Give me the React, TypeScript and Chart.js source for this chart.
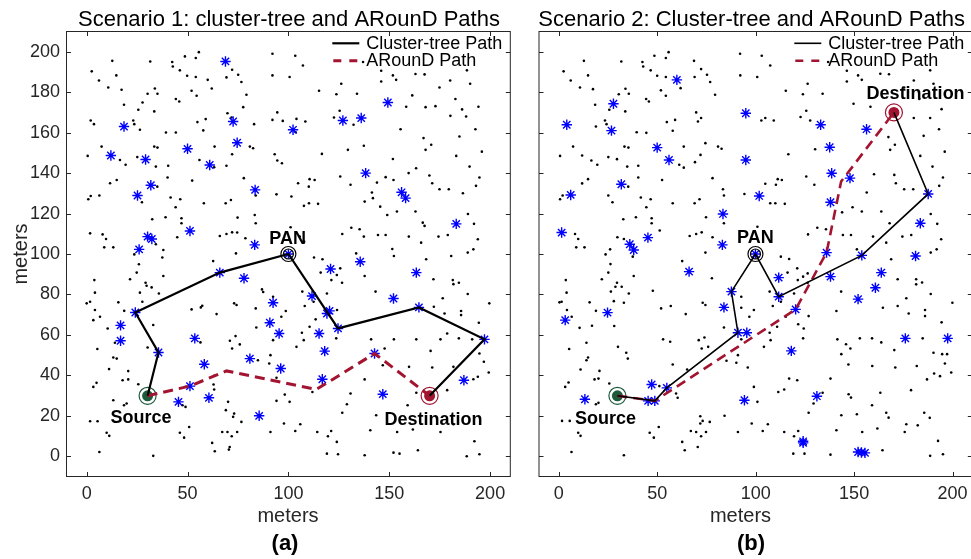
import React, { useEffect, useRef } from "react";
import { Chart, registerables } from "chart.js";

Chart.register(...registerables);

type Pt = [number, number];

// ---------- axis ticks ----------
const X_TICKS = [0, 50, 100, 150, 200];
const Y_TICKS = [0, 20, 40, 60, 80, 100, 120, 140, 160, 180, 200];
const AXIS_MIN = -10;
const AXIS_MAX = 210;

const LEGEND_LABELS = ["Cluster-tree Path", "ARounD Path"];

// ---------- Scenario 1 ----------
const S1_TITLE = "Scenario 1: cluster-tree and ARounD Paths";
const S1_SOURCE: Pt = [30.2, 29.9];
const S1_DEST: Pt = [170, 29.9];
const S1_PAN: Pt = [100, 100];
const S1_CLUSTER_PATH: Pt[] = [
  [30.2, 29.9], [35.6, 51.3], [24.1, 71.1], [66, 90.8], [100, 100],
  [124.6, 63.2], [164.7, 73.6], [197.2, 57.8], [170, 29.9],
];
const S1_AROUND_PATH: Pt[] = [
  [30.2, 29.9], [51.2, 34.7], [69.3, 42.2], [113.8, 33], [142.7, 50.8], [170, 29.9],
];
const S1_HEADS: Pt[] = [
  [18.5, 163], [12, 148.7], [29.2, 146.7], [50, 152], [31.8, 134], [25.2, 128.9], [61, 144],
  [68.8, 195.2], [72.6, 165.5], [74.6, 155], [83.5, 131.7], [102.3, 161.4], [51.2, 111.4],
  [30.2, 108.6], [32.3, 107.4], [26, 102.3], [83.3, 104.5], [127, 166], [136.1, 167.2],
  [149.3, 174.9], [138.3, 140], [156.1, 130.5], [158.1, 127.6], [183.2, 114.9], [66, 90.8],
  [78, 88], [92.4, 75.9], [90.8, 66], [95.4, 60.7], [24.1, 71.1], [16.8, 64.7], [16.8, 57.1],
  [35.6, 51.3], [53.6, 58.3], [58.3, 45.5], [80.9, 48.3], [96.2, 43.4], [51.2, 34.7],
  [60.6, 28.9], [45.5, 26.9], [85.5, 20], [120.9, 92.6], [135.6, 96.2], [163.4, 90.8],
  [111.7, 79.2], [120.4, 71.9], [119.1, 70.6], [124.6, 63.2], [115.2, 60.7], [118, 52],
  [116.8, 38.1], [142.7, 50.8], [152.1, 78], [164.7, 73.6], [197.2, 57.8], [187, 37.6],
  [146.8, 30.7],
];
const S1_NODES: Pt[] = [
  [2.5, 190.3], [6.1, 185.8], [10.7, 182.3], [12.7, 195.5], [14.7, 188.3], [17.3, 181.2], [18.5, 173.8],
  [23.1, 166], [23.6, 164.2], [25.6, 171.3], [27.7, 174.9], [30.2, 179.2], [31.5, 195.2], [33.8, 181.8],
  [35.1, 179.2], [33.5, 170.5], [26.4, 161.4], [2, 166], [3.6, 164.2], [7.4, 153.1], [0.5, 148.5],
  [16.5, 146.5], [19.3, 144.1], [25.1, 147.9], [33.5, 153.1], [35.1, 152.6], [39.3, 160.1], [44.2, 160.1],
  [34.3, 143.2], [40.4, 143.6], [14.9, 136.6], [11.6, 135], [6.3, 128.9], [2, 128.7], [0.8, 127.1],
  [27.4, 125.6], [35, 133.3], [40.1, 137.8], [41.6, 127.9], [46.4, 127.1], [44.1, 123.1], [47, 117.7],
  [47, 115.2], [32.5, 117.2], [39.1, 118.2], [44.9, 108.3], [7.9, 109.7], [9.6, 107.4], [8.7, 103.3],
  [13.2, 103.3], [1.7, 110.2], [34.3, 104.8], [38, 102], [37.5, 98.3], [23.6, 99.8],
  [42.4, 194.9], [42.7, 192.7], [46.2, 190.8], [48.7, 197.7], [49.8, 188.1], [54.1, 196.9], [55.6, 199.8],
  [54.1, 187.5], [60, 186.1], [62, 181.8], [52, 180.7], [54.5, 178.2], [44.2, 176.6], [45.9, 175.4],
  [54.9, 165.2], [59, 166.7], [57.8, 161.1], [63.4, 153.1], [55.9, 146.5], [63.2, 142.9], [52.3, 136.3],
  [58.1, 125.1], [68.9, 125.1], [71.5, 126.7], [74.8, 118], [69.3, 143.6], [72.1, 149.3], [69.8, 169.6],
  [71.8, 167.5], [72.1, 191.1], [69.3, 187.3], [75.1, 188.6], [76.7, 185], [79.2, 178.7], [77.6, 172.6],
  [80.9, 153.1], [77.9, 137.5], [74.6, 110.6], [66, 108.9], [69.3, 109.9], [72.1, 110.7], [78.7, 107.8],
  [74, 100.3],
  [92.1, 199], [103.4, 198], [107.2, 193.2], [92.1, 188.3], [100.6, 187.5], [115.2, 180.7], [123.8, 179],
  [126.2, 184.2], [134, 179.2], [137, 194.9], [146, 190.6], [146, 185.3], [151.8, 188.3], [153.4, 186.1],
  [163, 189], [167.5, 188.8], [174.9, 182.3], [180.2, 185.8], [188.5, 190.8], [190.1, 184.2], [161.4, 178.4],
  [182.8, 176.6], [158.4, 172.8], [168, 172.6], [172.9, 173.1], [186.1, 171.5], [194.2, 172.8], [180.3, 168.3],
  [188.1, 168], [125.4, 170.8], [122.6, 167.5], [132.3, 163.9], [94.5, 170], [92.1, 166.3], [97.2, 165.8],
  [104, 166.8], [108.4, 165.5], [103.6, 160.2], [155.6, 161.7], [167, 157.3], [170.8, 154], [168, 151.5],
  [192.7, 161.7], [184.8, 158.1], [195.9, 150.6], [183.2, 148.5], [189.8, 143.2], [137.4, 153.5],
  [129.5, 151.5], [116.6, 149.5], [151.8, 147], [93.2, 149.3], [94.5, 146.2], [96.8, 144.9], [83, 164.2],
  [82.5, 152.3], [159.6, 140], [163.3, 142.4], [169.9, 138.8], [171.3, 135], [174.9, 132], [179.5, 132],
  [186.5, 130], [194.7, 137.8], [193, 133.7], [125.7, 138.3], [130.8, 134.2], [143.9, 135.3], [148.2, 138],
  [152.1, 136.6], [141.4, 130.4], [141.9, 127.6], [137.8, 125.9], [145.5, 123.4], [149, 119.3], [153.8, 121],
  [163, 121], [166.6, 115.5], [167.5, 113.9], [189, 119.8], [192, 114.9], [104.8, 135], [110.5, 137],
  [113, 136.6], [110.1, 133.3], [101.5, 128.4], [94.1, 129.5], [83.8, 128.9], [107.7, 123.8], [110.2, 125.1],
  [114.7, 124.8], [83.3, 119.3], [83.8, 115.2], [101.1, 113.2], [126.7, 109.9], [131.2, 113], [135.3, 112.2],
  [137.4, 108.6], [144.4, 109.4], [148.2, 109.4], [151.5, 102.5], [159.7, 108.6], [165.8, 105.6],
  [174.4, 108.6], [179, 109.4], [188.9, 100.7], [191.7, 102.3], [193.9, 107.3], [168.3, 97.4], [133.6, 100.3],
  [112.7, 98.3], [116.9, 97.4], [105.6, 108.6], [107.8, 106.1], [152.3, 99], [180.7, 99],
  [0, 75.6], [1.7, 76.4], [3.8, 87.1], [4.1, 80.9], [4.1, 72.3], [6.6, 69], [3.3, 67.3], [10.4, 63.2],
  [5.3, 53], [15.7, 76.1], [18.6, 71.9], [14, 56.1], [13.2, 48.8], [14.9, 48.3], [11.1, 43.1], [17.8, 37.6],
  [20.6, 42.1], [20.6, 38], [4.9, 36.3], [3.3, 34.3], [13.2, 27.7], [18.5, 25.2], [19.8, 26.1], [1.7, 17.3],
  [5.4, 17.3], [9.9, 11.6], [11.2, 10.1], [6.3, 2.1], [33, 0.2], [21.5, 87.5], [24.8, 90.8], [25.9, 94.9],
  [38, 89.1], [29.2, 85.8], [29.7, 84.3], [32.2, 83.5], [26.4, 80.9], [35.8, 80.5], [27.6, 76.4], [33, 64.9],
  [30.2, 53.8], [25.6, 35.6], [47.5, 25.2], [49, 24.4], [50.8, 14.5], [46.2, 11.6], [48.3, 9.2], [52, 72.6],
  [56.6, 73.6], [57.3, 74.4], [56.4, 56.3], [63.2, 39.8], [62.9, 35.5], [63.2, 33], [62.7, 96.5], [64.4, 70.3],
  [71, 57.1], [72.1, 53.3], [73.8, 59.4], [75.9, 55.3], [73.1, 75.6], [74.3, 74.8], [69, 22.8], [72.6, 19.5],
  [73.1, 21.1], [74.6, 12], [76.7, 17], [69.8, 12], [67.2, 12], [71.9, 9.9], [62.2, 6.6], [70.9, 4.6],
  [70.5, 3.3], [63.5, 2.5], [70.1, 26.9],
  [116, 90.8], [121.3, 87.1], [124, 89.6], [126.6, 85.8], [137.8, 89.1], [143.2, 81.4], [171.9, 87.5],
  [181.5, 87.1], [181.8, 85.1], [184.5, 85.8], [188.9, 80.2], [199.6, 75.6], [176.5, 78.1], [172.1, 73.9],
  [185.6, 71.8], [185.6, 69.8], [177.4, 70.6], [194.4, 66], [178.7, 60.7], [175.4, 57.8], [184.5, 58.3],
  [191.1, 57.8], [194.7, 50.8], [196.9, 46.7], [199.3, 41.4], [193.9, 39.3], [191.7, 38.1], [178.7, 32.7],
  [181.8, 44.2], [171.3, 43.9], [170.5, 52.1], [159.8, 44.2], [163.4, 31.4], [159.1, 25.2], [152.3, 57.8],
  [163.4, 57.8], [141, 57.8], [147.7, 53.3], [146.8, 45], [137.8, 38], [130.8, 31], [129, 25.7],
  [126.7, 21.5], [111.9, 31.8], [123.7, 58.3], [124.1, 72.3], [119.1, 80.5], [106.9, 81.4], [108.1, 74.3],
  [112.5, 76.4], [113.5, 67.7], [106.7, 61.1], [107.6, 57.4], [104, 54.1], [110.5, 64], [125.7, 92.9],
  [86.9, 82.5], [87.5, 81.2], [92.4, 78.9], [83.8, 73.1], [84.1, 63.7], [98.7, 71.8], [96.5, 69], [92.4, 57.4],
  [91.1, 50], [84.9, 47.5], [90.5, 45.9], [94.1, 38.8], [98.2, 30.5], [94.1, 27.4], [100.6, 26.9],
  [105.9, 15.8], [97.8, 16.2], [103.4, 12.5], [91.1, 12], [114.3, 12], [119.6, 9.9], [121.2, 12.5],
  [124, 7.1], [119.1, 1.3], [124.6, 1], [137.8, 0.5], [152.1, 1.8], [155.1, 1.3], [164.2, 3], [140.6, 12.9],
  [153.9, 12], [161.7, 13.2], [175.4, 12], [181.8, 15.8], [192.2, 7.4], [188.4, 0], [194.7, 1], [143.5, 20.3],
];

// ---------- Scenario 2 ----------
const S2_TITLE = "Scenario 2: Cluster-tree and ARounD Paths";
const S2_SOURCE: Pt = [29.8, 29.9];
const S2_DEST: Pt = [170.2, 170];
const S2_PAN: Pt = [99.9, 100];
const S2_CLUSTER_PATH: Pt[] = [
  [29.8, 29.9], [48.8, 27.4], [54.9, 33.8], [91, 61.1], [87.7, 81.4], [99.9, 100],
  [111.7, 78.9], [153.9, 99.3], [187.6, 129.7], [170.2, 170],
];
const S2_AROUND_PATH: Pt[] = [
  [29.8, 29.9], [48.8, 27.4], [91, 54.1], [120.3, 72.6], [136, 100.7], [143.4, 135.8], [170.2, 170],
];
const S2_HEADS: Pt[] = [
  [60, 186.1], [27.8, 174.3], [4.1, 163.9], [26.8, 161], [50, 152.6], [56, 146.5], [31.8, 134.5],
  [6.1, 129.2], [83.4, 119.8], [1.5, 110.6], [45.3, 108.1], [36.1, 104.8], [38.1, 102], [83.1, 104.5],
  [95, 169.6], [95, 146.5], [101.8, 128.7], [133, 163.9], [137.6, 152.8], [156.3, 161.7], [138.6, 139.9],
  [147.9, 137.5], [138, 125.6], [187.6, 129.7], [183.6, 115.2], [136, 100.7], [153.9, 99.3], [181.2, 99],
  [66.2, 91.3], [3.3, 67.3], [24.8, 71], [87.7, 81.4], [83.9, 73.6], [91, 61.1], [47.2, 35.5],
  [54.9, 33.8], [45.4, 27.4], [48.8, 27.4], [13.3, 28.2], [94.3, 27.7], [111.7, 88.3], [138, 88.8],
  [163.8, 90.8], [160.8, 83.3], [111.7, 78.9], [152, 77.7], [120.3, 72.6], [95.5, 61.1], [118.1, 52.1],
  [176, 58.3], [197.5, 58.3], [131.1, 29.7], [124.1, 7.4], [124.1, 6.6], [152, 2.1], [155.5, 1.7],
  [153.7, 1.9],
];
const S2_NODES: Pt[] = [
  [12.8, 195.5], [2.5, 190.3], [6.1, 185.8], [14.9, 188.3], [10.8, 182.3], [17.4, 181.5], [18.5, 173.8],
  [18.9, 163], [23.5, 166], [24.3, 164.2], [30.5, 179], [31.8, 195.2], [33.9, 181.7], [35.6, 179.2],
  [33.8, 170.5], [25.7, 171.3], [44.4, 176.6], [45.8, 175.4], [42.5, 194.9], [42.9, 192.7], [46.7, 190.8],
  [48.6, 198], [50, 188.1], [54.4, 196.9], [55.8, 199.8], [54.4, 187.5], [51.9, 180.9], [54.4, 178.2],
  [61.9, 182], [68.7, 195.5], [69, 187.5], [72.3, 191.4], [75.3, 188.6], [76.9, 185], [79.4, 178.7],
  [69.8, 170], [72.3, 167.2], [70.7, 165.5], [59.1, 166.3], [54.9, 165.2], [57.9, 160.9], [39.6, 160.2],
  [44.5, 159.9], [7.3, 153.1], [0.7, 148.5], [11.9, 148.7], [16.6, 146.2], [19.6, 144.1], [25.2, 147.9],
  [29.6, 146.9], [33.4, 153.1], [35.4, 152.6], [34.8, 143.2], [40.4, 143.6], [40.4, 137.8], [52.5, 136.6],
  [63.5, 153.1], [61.2, 144.1], [63.5, 142.7], [69.2, 145.4], [72, 149], [74.5, 154.8], [80.9, 153.1],
  [82.7, 152], [78.1, 137.5], [83.4, 132], [83.9, 128.9], [14.9, 137], [11.9, 134.9], [2, 128.9],
  [0.7, 127.1], [25.2, 128.9], [27.3, 125.6], [35.3, 133.3], [41.7, 127.9], [46.7, 127.1], [44.5, 123.1],
  [57.9, 125.1], [69, 125.1], [71.5, 127.1], [74.8, 118.2], [47.2, 117.7], [47.2, 115.2], [39.2, 118.2],
  [32.8, 117.2], [51.3, 111.6], [66.5, 108.9], [69.8, 109.9], [72.6, 110.7], [78.1, 108.3], [83.9, 115.2],
  [8.3, 109.9], [9.9, 107.4], [8.9, 103.3], [13.1, 103.3], [29.8, 108.3], [33.1, 107.4], [26.1, 102.3],
  [23.8, 99.8], [37.6, 98.7], [74.5, 100.7],
  [92.1, 199], [103.1, 198], [107.4, 193.2], [92.2, 188.3], [100.8, 187.5], [115.3, 180.7], [124, 179],
  [126.4, 184.2], [134, 179.2], [136.8, 194.9], [146.3, 190.6], [146.3, 185.3], [152, 188.3], [153.9, 186.1],
  [163.3, 189.1], [167.7, 188.9], [175.4, 182.3], [180.3, 185.8], [188.6, 190.8], [190.3, 184.2],
  [161.6, 178.4], [149.7, 174.3], [183.1, 176.6], [158.3, 172.8], [180.3, 167.2], [188.6, 167.2],
  [194.4, 171.6], [193.1, 161.7], [185.3, 158.4], [167.4, 157.8], [170.7, 154], [168.3, 151.5], [196, 150.6],
  [183.6, 148.5], [189.8, 143.2], [122.8, 167.7], [125.7, 170.8], [127.7, 166], [130.2, 151.8],
  [125.7, 138.3], [129.8, 134.2], [116.6, 149.3], [104.9, 134.7], [110.3, 134.2], [113.3, 136.6], [110, 125.1],
  [107.4, 125.1], [114.8, 124.8], [94.3, 129.7], [100.9, 113.5], [126.6, 109.7], [131.3, 113], [135.7, 112.2],
  [144.3, 109.4], [148.4, 109.4], [151.4, 102.3], [143.9, 120.6], [149.2, 123.1], [153.9, 121], [156.4, 130.4],
  [160.1, 139.4], [170.4, 139.1], [171.2, 135], [175.4, 132], [180, 132], [193.2, 133.7], [195.1, 137.8],
  [163.8, 121], [168, 115.2], [188.9, 119.8], [192.2, 114.9], [159.6, 108.6], [166.3, 105.6], [174.5, 108.6],
  [179, 109.4], [188.9, 100.7], [191.9, 102.3], [194.2, 107.3], [168.8, 97.4], [102.9, 166], [104.9, 167.2],
  [109.2, 166], [111.2, 137],
  [26.3, 95], [25.2, 90.8], [21.9, 87.5], [3.6, 87.1], [4, 80.9], [0.4, 76.1], [1.5, 76.4], [4.2, 72.3],
  [6.6, 69], [5.3, 53], [10.6, 63.5], [15.7, 76.1], [18.9, 71.9], [16.9, 64.5], [14.1, 56.1], [26.5, 81.4],
  [28, 76.7], [29.6, 85.8], [28.8, 83.8], [32, 83.8], [35.6, 80.5], [33.1, 75.9], [28.2, 64.4], [30.1, 54.1],
  [34.3, 51.2], [35.1, 48.3], [14.9, 48.8], [14.1, 47.5], [11.1, 42.9], [18.2, 38], [20.7, 42.2],
  [20.2, 38.4], [5, 36.5], [3.3, 34.3], [18.9, 25.7], [20.2, 26.4], [25.7, 36], [1.7, 17.5], [5.6, 17.5],
  [9.9, 11.6], [11.1, 10.1], [6.5, 2.1], [33.1, 0.5], [38.1, 89.1], [47.8, 81.8], [52, 73.1], [56.9, 74.3],
  [53, 57.8], [56.6, 56.6], [57.9, 45.4], [64.5, 70.3], [62.7, 96.5], [77.8, 88], [73.1, 75.9], [74.5, 74.8],
  [71.1, 57.4], [72.6, 53.3], [74, 58.7], [75.9, 54.1], [65.2, 42.9], [83.9, 63.7], [85.2, 47.2],
  [90.2, 46.2], [51.1, 34.7], [59.6, 31], [60.4, 28.9], [71.9, 19.8], [71.9, 16.2], [73.1, 17.5],
  [76.7, 17], [84.2, 20], [91, 12], [67.1, 12.5], [69.8, 12], [72.3, 9.9], [74.8, 12], [62.7, 7.1],
  [70.6, 4.6], [64, 3], [46.2, 11.6], [48.3, 9.2], [50.8, 14.5],
  [112.8, 98.7], [117, 97.5], [116.2, 90.8], [121.1, 92.9], [121.4, 87.1], [124.1, 88.8], [126.4, 90.4],
  [126.4, 85.8], [107.1, 81.4], [119.5, 80.5], [108.7, 74.3], [112.8, 76.4], [115.3, 69], [110.9, 64],
  [107.1, 61.1], [107.6, 57.4], [104.2, 54.1], [121.6, 65.3], [124.4, 63.2], [124.1, 58.3], [126.9, 69.3],
  [92.7, 78.9], [92.7, 73.4], [99.1, 72.3], [96.8, 69], [92.7, 57.8], [91, 50], [96, 43.9], [99.1, 34.3],
  [100.9, 26.9], [98, 16.2], [106.2, 15.8], [103.6, 12.5], [114.5, 12], [119.5, 9.9], [121.6, 12.5],
  [119.1, 1.3], [124.8, 1.3], [138, 0.8], [164.4, 3], [117, 38.4], [121.1, 37.6], [111.5, 31.8],
  [114.5, 33], [134, 31.4], [129.4, 26.1], [126.9, 21.5], [138, 38.4], [143.5, 50.5], [141, 71.8],
  [141.5, 57.8], [145.9, 55.4], [148.1, 53.3], [147.1, 45.4], [147.2, 30.7], [148.4, 29], [143.5, 20.3],
  [141, 12.9], [151.4, 20.8], [154.1, 12], [159.1, 25.2], [161.8, 13.7], [163.3, 31.4], [166.3, 21.5],
  [167.5, 19.1], [152.9, 58.3], [159.1, 58.3], [163.8, 56.3], [159.2, 44.6], [170.9, 43.9], [170.4, 52.5],
  [178.9, 32.7], [181.8, 44.6], [184.8, 58.3], [190.3, 51.2], [194.7, 50.5], [197.2, 50.5], [196.1, 45.9],
  [199.3, 41.4], [193.6, 39.6], [190.6, 40.9], [187, 38], [172.1, 87.5], [181.5, 87.5], [181.5, 85],
  [184.5, 85.9], [188.9, 80.2], [199.9, 75.9], [172.1, 74.3], [176.5, 78.1], [177.7, 70.6], [186, 72.3],
  [186, 69.3], [194.4, 66.2], [164.6, 73.4], [143.4, 81.4], [185.6, 21.5], [188.4, 19], [182.3, 15.3],
  [176.5, 15.8], [175.7, 12], [192.6, 7.6], [188.6, 0.2], [195.1, 1],
];

// ---------- styles ----------
const FONT = "'Liberation Sans', Arial, Helvetica, sans-serif";
const BLUE = "#0000FF";
const RED = "#A2142F";
const GREEN = "#1E5B3B";
const AXIS_COLOR = "#262626";

const toXY = (a: Pt[]) => a.map(([x, y]) => ({ x, y }));

interface LabelSpec { text: string; at: Pt; dx: number; dy: number }
interface PanelSpec {
  title: string;
  source: Pt; dest: Pt; pan: Pt;
  cluster: Pt[]; around: Pt[]; heads: Pt[]; nodes: Pt[];
  width: number; left: number;
  areaLeft: number; areaRight: number;
  showY: boolean;
  sub: string; subX: number; xlabelX: number; titleX: number;
  labels: LabelSpec[];
  lw: number; dashLw: number;
}

function makeOverlay(p: PanelSpec) {
  return {
    id: "overlay",
    afterDraw(chart: any) {
      const { ctx, chartArea: ca, scales } = chart;
      const xs = scales.x, ys = scales.y;
      ctx.save();
      // box & inward ticks
      ctx.strokeStyle = AXIS_COLOR;
      ctx.lineWidth = 1;
      ctx.strokeRect(ca.left, ca.top, ca.right - ca.left, ca.bottom - ca.top);
      ctx.beginPath();
      const tl = 4.5;
      X_TICKS.forEach((v) => {
        const px = Math.round(xs.getPixelForValue(v)) + 0.5;
        ctx.moveTo(px, ca.bottom); ctx.lineTo(px, ca.bottom - tl);
        ctx.moveTo(px, ca.top); ctx.lineTo(px, ca.top + tl);
      });
      Y_TICKS.forEach((v) => {
        const py = Math.round(ys.getPixelForValue(v)) + 0.5;
        ctx.moveTo(ca.left, py); ctx.lineTo(ca.left + tl, py);
        ctx.moveTo(ca.right, py); ctx.lineTo(ca.right - tl, py);
      });
      ctx.stroke();

      // title
      ctx.fillStyle = "#000";
      ctx.textAlign = "center";
      ctx.textBaseline = "alphabetic";
      ctx.font = `22px ${FONT}`;
      ctx.fillText(p.title, p.titleX, 26);

      // x label and sub caption
      ctx.fillStyle = AXIS_COLOR;
      ctx.font = `20px ${FONT}`;
      ctx.fillText("meters", p.xlabelX, 521.5);
      ctx.fillStyle = "#000";
      ctx.font = `bold 22px ${FONT}`;
      ctx.fillText(p.sub, p.subX, 550);

      if (p.showY) {
        ctx.save();
        ctx.translate(27, (ca.top + ca.bottom) / 2);
        ctx.rotate(-Math.PI / 2);
        ctx.fillStyle = AXIS_COLOR;
        ctx.font = `20px ${FONT}`;
        ctx.fillText("meters", 0, 0);
        ctx.restore();
      }

      // node labels
      ctx.fillStyle = "#000";
      ctx.font = `bold 18px ${FONT}`;
      p.labels.forEach((l) => {
        const x = xs.getPixelForValue(l.at[0]) + l.dx;
        const y = ys.getPixelForValue(l.at[1]) + l.dy;
        ctx.fillText(l.text, x, y);
      });

      // legend
      const lx0 = ca.right - 178;
      const lx1 = ca.right - 151;
      const tx = ca.right - 144;
      const r1 = ca.top + 11.8;
      const r2 = ca.top + 29.3;
      ctx.lineWidth = p.lw;
      ctx.strokeStyle = "#000";
      ctx.beginPath(); ctx.moveTo(lx0, r1); ctx.lineTo(lx1, r1); ctx.stroke();
      ctx.strokeStyle = RED;
      ctx.lineWidth = p.dashLw;
      ctx.setLineDash([8, 8]);
      ctx.beginPath(); ctx.moveTo(lx0 + 1, r2); ctx.lineTo(lx1, r2); ctx.stroke();
      ctx.setLineDash([]);
      ctx.fillStyle = "#000";
      ctx.textAlign = "left";
      ctx.font = `18px ${FONT}`;
      ctx.fillText(LEGEND_LABELS[0], tx, r1 + 5.3);
      ctx.fillText(LEGEND_LABELS[1], tx, r2 + 5.5);
      ctx.restore();
    },
  };
}

function makeConfig(p: PanelSpec): any {
  const H = 559;
  const areaTop = 31.5;
  const areaBottom = 476.5;
  const datasets: any[] = [
    { label: LEGEND_LABELS[0], data: toXY(p.cluster), showLine: true, borderColor: "#000", borderWidth: p.lw, pointRadius: 0, order: 0 },
    { label: LEGEND_LABELS[1], data: toXY(p.around), showLine: true, borderColor: RED, borderWidth: p.dashLw, borderDash: [10, 6], pointRadius: 0, order: 1 },
    { label: "Source", data: toXY([p.source]), pointRadius: 5.5, pointBackgroundColor: GREEN, pointBorderWidth: 0, order: 2 },
    { label: "Source ring", data: toXY([p.source]), pointRadius: 8.5, pointBackgroundColor: "rgba(0,0,0,0)", pointBorderColor: GREEN, pointBorderWidth: 1.2, order: 2 },
    { label: "Destination", data: toXY([p.dest]), pointRadius: 5.5, pointBackgroundColor: RED, pointBorderWidth: 0, order: 2 },
    { label: "Destination ring", data: toXY([p.dest]), pointRadius: 8.5, pointBackgroundColor: "rgba(0,0,0,0)", pointBorderColor: RED, pointBorderWidth: 1.2, order: 2 },
    { label: "PAN outer", data: toXY([p.pan]), pointRadius: 7.5, pointBackgroundColor: "rgba(0,0,0,0)", pointBorderColor: "#000", pointBorderWidth: 1.2, order: 2 },
    { label: "PAN inner", data: toXY([p.pan]), pointRadius: 5, pointBackgroundColor: "rgba(0,0,0,0)", pointBorderColor: "#000", pointBorderWidth: 1.2, order: 2 },
    { label: "PAN head", data: toXY([p.pan]), pointStyle: "star", pointRadius: 4.8, pointBorderColor: BLUE, pointBorderWidth: 1.4, order: 2 },
    { label: "Cluster heads", data: toXY(p.heads), pointStyle: "star", pointRadius: 5.2, pointBorderColor: BLUE, pointBackgroundColor: BLUE, pointBorderWidth: 1.4, order: 3 },
    { label: "Nodes", data: toXY(p.nodes), pointStyle: "circle", pointRadius: 1.3, pointBackgroundColor: "#000", pointBorderWidth: 0, order: 4 },
  ];
  return {
    type: "scatter",
    data: { datasets },
    options: {
      animation: false,
      responsive: false,
      devicePixelRatio: 1,
      events: [],
      layout: {
        padding: {
          top: areaTop,
          left: p.showY ? 0 : p.areaLeft,
          right: p.width - p.areaRight,
          bottom: 0,
        },
      },
      plugins: { legend: { display: false }, tooltip: { enabled: false }, title: { display: false } },
      scales: {
        x: {
          type: "linear",
          min: AXIS_MIN,
          max: AXIS_MAX,
          grid: { display: false, drawTicks: false },
          border: { display: false },
          afterBuildTicks: (s: any) => { s.ticks = X_TICKS.map((v) => ({ value: v })); },
          afterFit: (s: any) => { s.height = H - areaBottom; },
          ticks: { autoSkip: false, maxRotation: 0, padding: 7, color: AXIS_COLOR, font: { family: FONT, size: 18 } },
        },
        y: {
          type: "linear",
          display: p.showY,
          min: AXIS_MIN,
          max: AXIS_MAX,
          grid: { display: false, drawTicks: false },
          border: { display: false },
          afterBuildTicks: (s: any) => { s.ticks = Y_TICKS.map((v) => ({ value: v })); },
          afterFit: (s: any) => { s.width = p.areaLeft; },
          ticks: { autoSkip: false, padding: 6.5, color: AXIS_COLOR, font: { family: FONT, size: 18 } },
        },
      },
    },
    plugins: [makeOverlay(p)],
  };
}

const PANEL_1: PanelSpec = {
  title: S1_TITLE, source: S1_SOURCE, dest: S1_DEST, pan: S1_PAN,
  cluster: S1_CLUSTER_PATH, around: S1_AROUND_PATH, heads: S1_HEADS, nodes: S1_NODES,
  width: 520, left: 0, areaLeft: 66.5, areaRight: 511.5, showY: true,
  sub: "(a)", subX: 285, xlabelX: 288, titleX: 289,
  labels: [
    { text: "PAN", at: S1_PAN, dx: -0.7, dy: -10.3 },
    { text: "Source", at: S1_SOURCE, dx: -6.7, dy: 27.4 },
    { text: "Destination", at: S1_DEST, dx: 3.9, dy: 29.4 },
  ],
  lw: 2.2, dashLw: 3,
};

const PANEL_2: PanelSpec = {
  title: S2_TITLE, source: S2_SOURCE, dest: S2_DEST, pan: S2_PAN,
  cluster: S2_CLUSTER_PATH, around: S2_AROUND_PATH, heads: S2_HEADS, nodes: S2_NODES,
  width: 462, left: 520, areaLeft: 9.5, areaRight: 453, showY: false,
  sub: "(b)", subX: 231, xlabelX: 220.5, titleX: 231.7,
  labels: [
    { text: "PAN", at: S2_PAN, dx: 0, dy: -11 },
    { text: "Source", at: S2_SOURCE, dx: -11.8, dy: 28.4 },
    { text: "Destination", at: S2_DEST, dx: 21.7, dy: -13.6 },
  ],
  lw: 1.6, dashLw: 2.6,
};

function Panel({ spec }: { spec: PanelSpec }) {
  const ref = useRef<HTMLCanvasElement | null>(null);
  useEffect(() => {
    if (!ref.current) return;
    const chart = new Chart(ref.current, makeConfig(spec));
    return () => chart.destroy();
  }, [spec]);
  return (
    <canvas
      ref={ref}
      width={spec.width}
      height={559}
      style={{ position: "absolute", left: spec.left, top: 0, width: spec.width, height: 559 }}
    />
  );
}

export default function App() {
  return (
    <div
      style={{
        position: "fixed", left: 0, top: 0, width: 971, height: 559,
        overflow: "hidden", background: "#fff",
      }}
    >
      <Panel spec={PANEL_1} />
      <Panel spec={PANEL_2} />
    </div>
  );
}
